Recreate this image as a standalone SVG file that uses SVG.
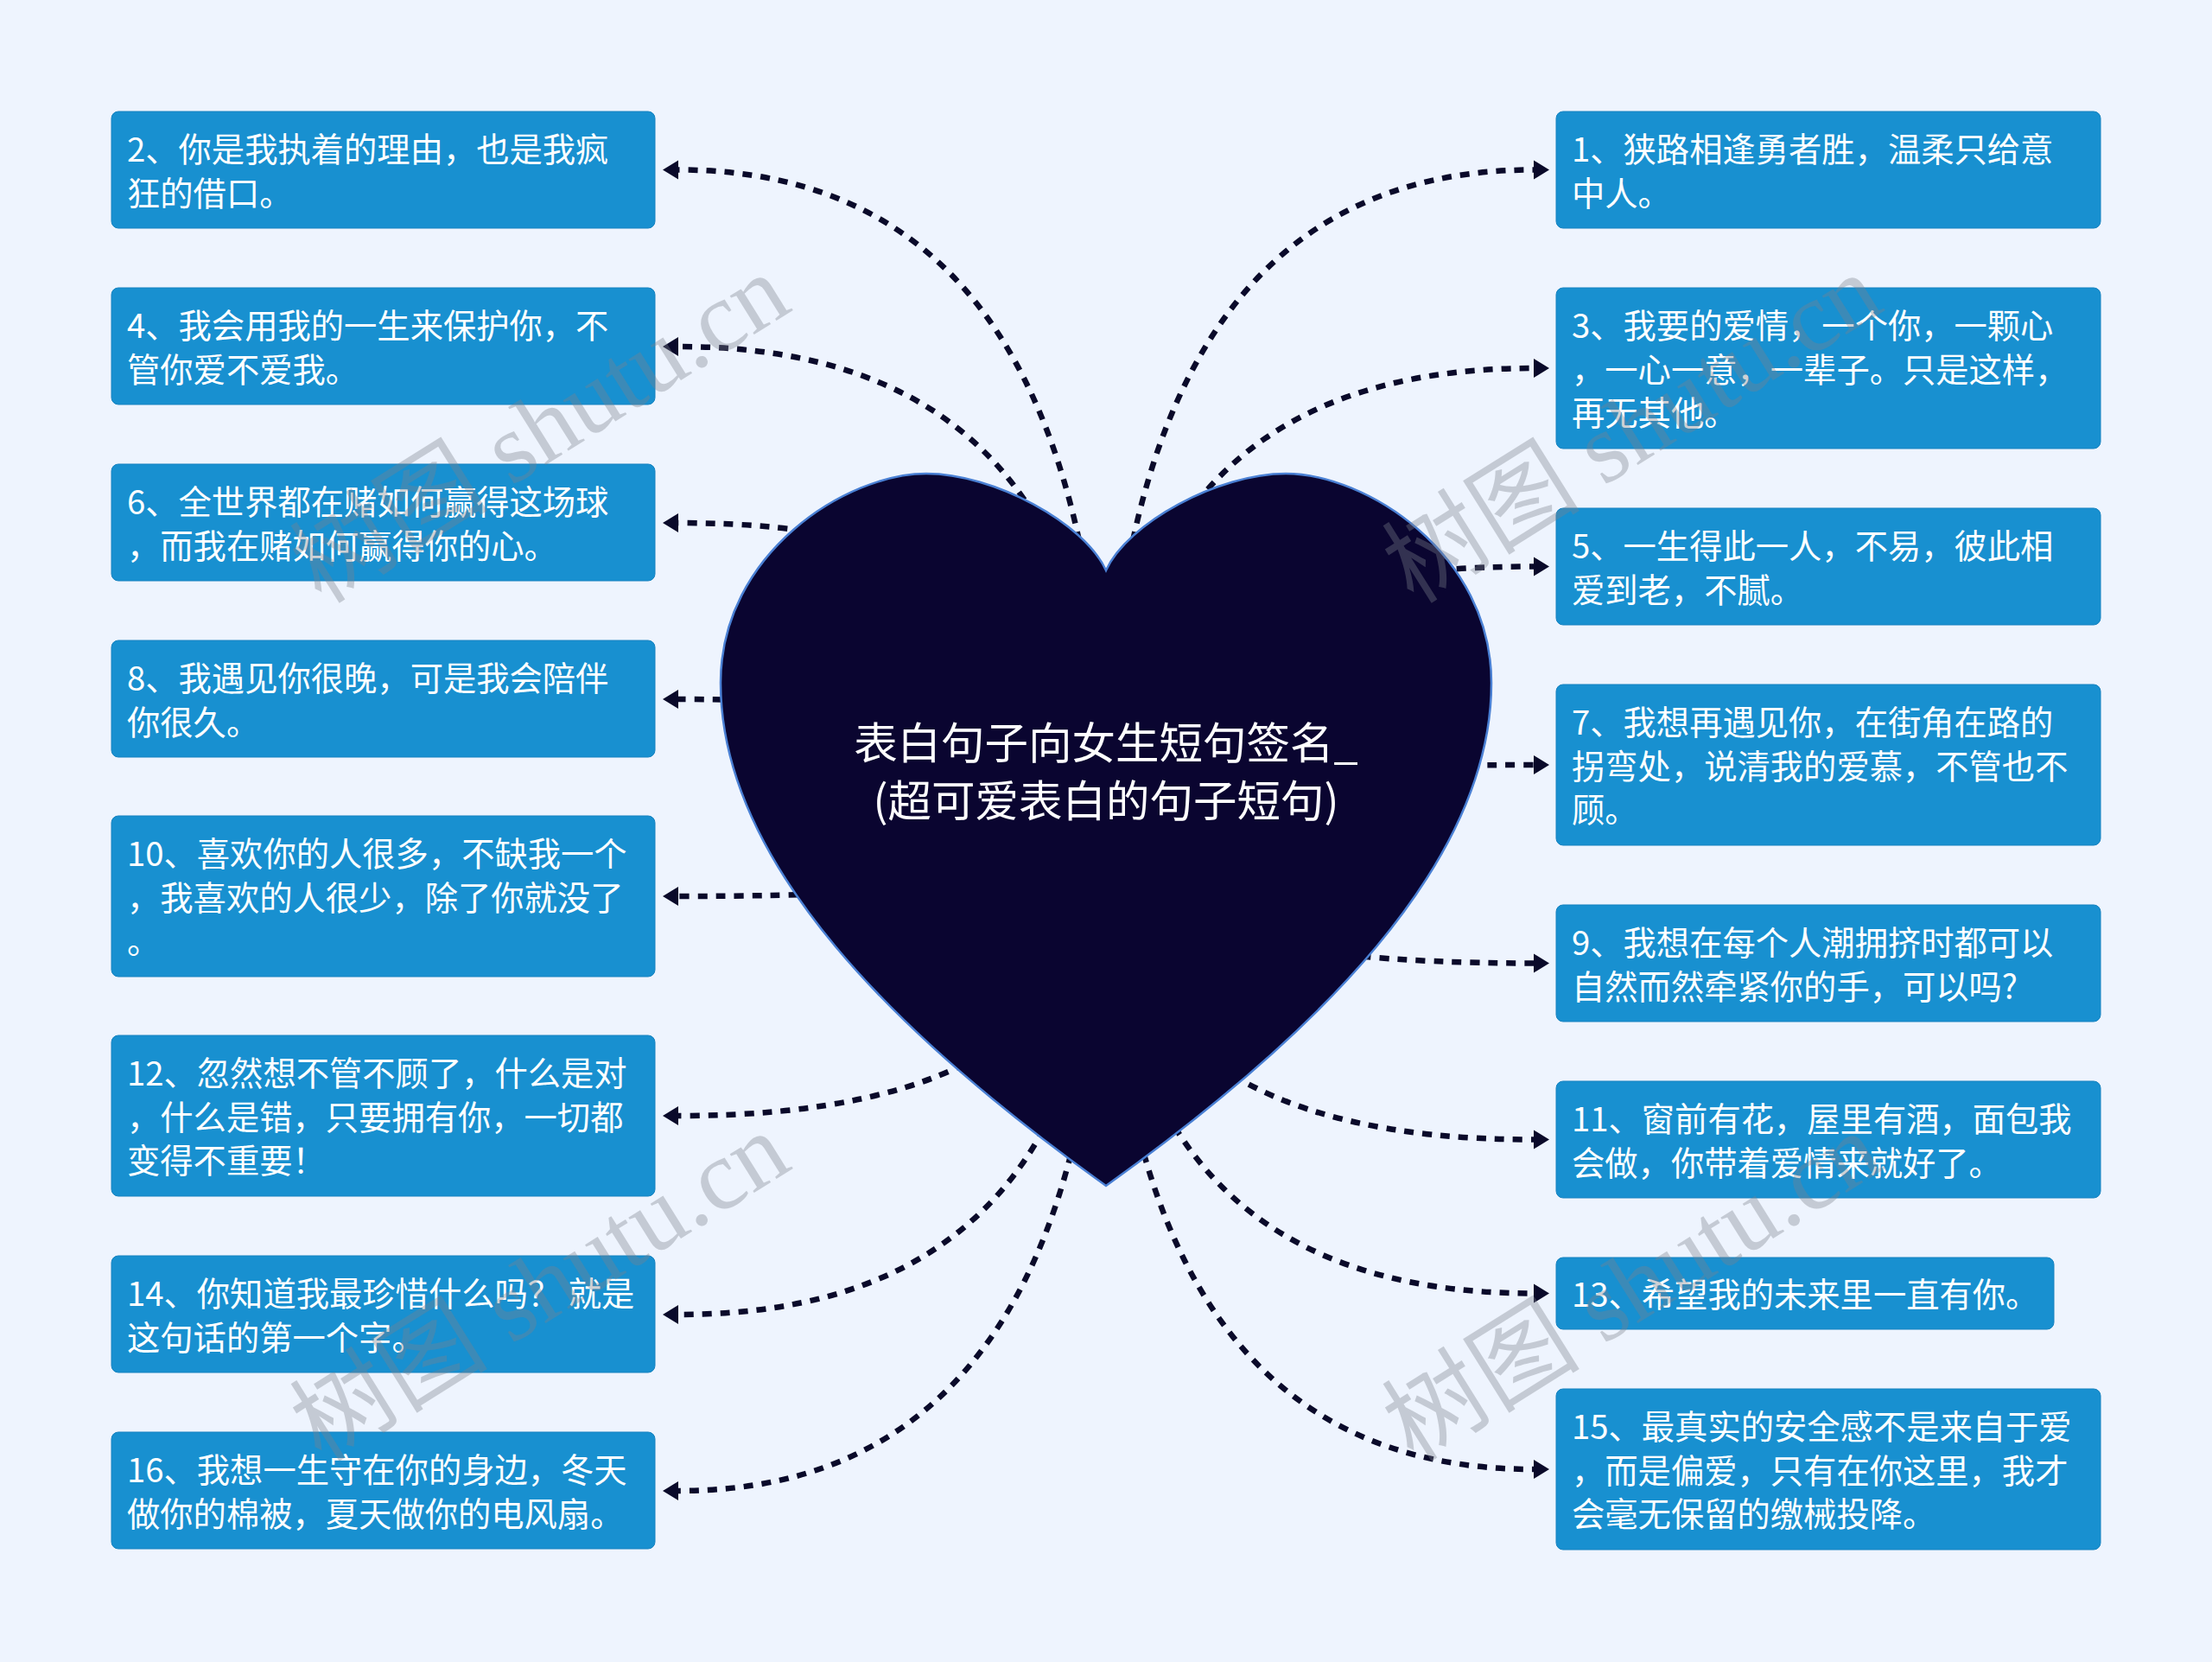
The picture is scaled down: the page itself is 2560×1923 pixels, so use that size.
<svg xmlns="http://www.w3.org/2000/svg" width="2560" height="1923" viewBox="0 0 2560 1923">
<defs>
<style>
.box{fill:#1890d0;stroke:#1682c0;stroke-width:1}
.t{font-family:"Noto Sans CJK SC","Noto Sans",sans-serif;font-size:38.3px;fill:#ffffff}
.c{fill:none;stroke:#0a0a2a;stroke-width:6.5;stroke-dasharray:11 10}
.wm{font-family:"Liberation Serif","Noto Sans CJK SC",serif;font-size:115px;fill:#7d828c;opacity:0.36}
</style>
<marker id="ah" markerUnits="userSpaceOnUse" markerWidth="20" markerHeight="24" refX="0" refY="12" orient="auto" viewBox="0 0 20 24">
<path d="M0,1 L18,12 L0,23 Z" fill="#0a0a2a"/>
</marker>
</defs>
<rect x="0" y="0" width="2560" height="1923" fill="#eef4fe"/>
<g id="connectors">
<path class="c" marker-end="url(#ah)" d="M1280,960 Q1280,196.5 785,196.5"/>
<path class="c" marker-end="url(#ah)" d="M1280,960 Q1280,401 785,401"/>
<path class="c" marker-end="url(#ah)" d="M1280,960 Q1280,605 785,605"/>
<path class="c" marker-end="url(#ah)" d="M1280,960 Q1280,809 785,809"/>
<path class="c" marker-end="url(#ah)" d="M1280,960 Q1280,1037 785,1037"/>
<path class="c" marker-end="url(#ah)" d="M1280,960 Q1280,1291 785,1291"/>
<path class="c" marker-end="url(#ah)" d="M1280,960 Q1280,1521 785,1521"/>
<path class="c" marker-end="url(#ah)" d="M1280,960 Q1280,1725 785,1725"/>
<path class="c" marker-end="url(#ah)" d="M1280,960 Q1280,196.5 1775,196.5"/>
<path class="c" marker-end="url(#ah)" d="M1280,960 Q1280,426 1775,426"/>
<path class="c" marker-end="url(#ah)" d="M1280,960 Q1280,655.5 1775,655.5"/>
<path class="c" marker-end="url(#ah)" d="M1280,960 Q1280,885 1775,885"/>
<path class="c" marker-end="url(#ah)" d="M1280,960 Q1280,1114.5 1775,1114.5"/>
<path class="c" marker-end="url(#ah)" d="M1280,960 Q1280,1318.5 1775,1318.5"/>
<path class="c" marker-end="url(#ah)" d="M1280,960 Q1280,1496.5 1775,1496.5"/>
<path class="c" marker-end="url(#ah)" d="M1280,960 Q1280,1700 1775,1700"/>
</g>
<g id="root">
<path d="M1280,660 C1255,605 1150,548 1072,548 C980,548 834,640 834,790 C834,1000 1040,1200 1280,1372 C1520,1200 1726,1000 1726,790 C1726,640 1580,548 1488,548 C1410,548 1305,605 1280,660 Z" fill="#0a0530" stroke="#4a80d4" stroke-width="2.5"/>
<text x="1280" y="878" text-anchor="middle" font-family="Noto Sans CJK SC, Noto Sans, sans-serif" font-size="50.5" fill="#ffffff">表白句子向女生短句签名_</text>
<text x="1280" y="945" text-anchor="middle" font-family="Noto Sans CJK SC, Noto Sans, sans-serif" font-size="50.5" fill="#ffffff">(超可爱表白的句子短句)</text>
</g>
<g id="n2"><rect class="box" x="129" y="129" width="629" height="135" rx="8"/>
<text class="t" x="147" y="187">2、你是我执着的理由，也是我疯</text><text class="t" x="147" y="237.6">狂的借口。</text></g>
<g id="n4"><rect class="box" x="129" y="333" width="629" height="135" rx="8"/>
<text class="t" x="147" y="391">4、我会用我的一生来保护你，不</text><text class="t" x="147" y="441.6">管你爱不爱我。</text></g>
<g id="n6"><rect class="box" x="129" y="537" width="629" height="135" rx="8"/>
<text class="t" x="147" y="595">6、全世界都在赌如何赢得这场球</text><text class="t" x="147" y="645.6">，而我在赌如何赢得你的心。</text></g>
<g id="n8"><rect class="box" x="129" y="741" width="629" height="135" rx="8"/>
<text class="t" x="147" y="799">8、我遇见你很晚，可是我会陪伴</text><text class="t" x="147" y="849.6">你很久。</text></g>
<g id="n10"><rect class="box" x="129" y="944" width="629" height="186" rx="8"/>
<text class="t" x="147" y="1002">10、喜欢你的人很多，不缺我一个</text><text class="t" x="147" y="1052.6">，我喜欢的人很少，除了你就没了</text><text class="t" x="147" y="1103.2">。</text></g>
<g id="n12"><rect class="box" x="129" y="1198" width="629" height="186" rx="8"/>
<text class="t" x="147" y="1256">12、忽然想不管不顾了，什么是对</text><text class="t" x="147" y="1306.6">，什么是错，只要拥有你，一切都</text><text class="t" x="147" y="1357.2">变得不重要！</text></g>
<g id="n14"><rect class="box" x="129" y="1453" width="629" height="135" rx="8"/>
<text class="t" x="147" y="1511">14、你知道我最珍惜什么吗？ 就是</text><text class="t" x="147" y="1561.6">这句话的第一个字。</text></g>
<g id="n16"><rect class="box" x="129" y="1657" width="629" height="135" rx="8"/>
<text class="t" x="147" y="1715">16、我想一生守在你的身边，冬天</text><text class="t" x="147" y="1765.6">做你的棉被，夏天做你的电风扇。</text></g>
<g id="n1"><rect class="box" x="1801" y="129" width="630" height="135" rx="8"/>
<text class="t" x="1819" y="187">1、狭路相逢勇者胜，温柔只给意</text><text class="t" x="1819" y="237.6">中人。</text></g>
<g id="n3"><rect class="box" x="1801" y="333" width="630" height="186" rx="8"/>
<text class="t" x="1819" y="391">3、我要的爱情，一个你，一颗心</text><text class="t" x="1819" y="441.6">，一心一意，一辈子。只是这样，</text><text class="t" x="1819" y="492.2">再无其他。</text></g>
<g id="n5"><rect class="box" x="1801" y="588" width="630" height="135" rx="8"/>
<text class="t" x="1819" y="646">5、一生得此一人，不易，彼此相</text><text class="t" x="1819" y="696.6">爱到老，不腻。</text></g>
<g id="n7"><rect class="box" x="1801" y="792" width="630" height="186" rx="8"/>
<text class="t" x="1819" y="850">7、我想再遇见你，在街角在路的</text><text class="t" x="1819" y="900.6">拐弯处，说清我的爱慕，不管也不</text><text class="t" x="1819" y="951.2">顾。</text></g>
<g id="n9"><rect class="box" x="1801" y="1047" width="630" height="135" rx="8"/>
<text class="t" x="1819" y="1105">9、我想在每个人潮拥挤时都可以</text><text class="t" x="1819" y="1155.6">自然而然牵紧你的手，可以吗?</text></g>
<g id="n11"><rect class="box" x="1801" y="1251" width="630" height="135" rx="8"/>
<text class="t" x="1819" y="1309">11、窗前有花，屋里有酒，面包我</text><text class="t" x="1819" y="1359.6">会做，你带着爱情来就好了。</text></g>
<g id="n13"><rect class="box" x="1801" y="1455" width="576" height="83" rx="8"/>
<text class="t" x="1819" y="1512">13、希望我的未来里一直有你。</text></g>
<g id="n15"><rect class="box" x="1801" y="1607" width="630" height="186" rx="8"/>
<text class="t" x="1819" y="1665">15、最真实的安全感不是来自于爱</text><text class="t" x="1819" y="1715.6">，而是偏爱，只有在你这里，我才</text><text class="t" x="1819" y="1766.2">会毫无保留的缴械投降。</text></g>
<g id="watermarks">
<text class="wm" x="372" y="700" transform="rotate(-32 372 700)">树图 shutu.cn</text>
<text class="wm" x="1636" y="700" transform="rotate(-32 1636 700)">树图 shutu.cn</text>
<text class="wm" x="372" y="1693" transform="rotate(-32 372 1693)">树图 shutu.cn</text>
<text class="wm" x="1636" y="1693" transform="rotate(-32 1636 1693)">树图 shutu.cn</text>
</g>
</svg>
